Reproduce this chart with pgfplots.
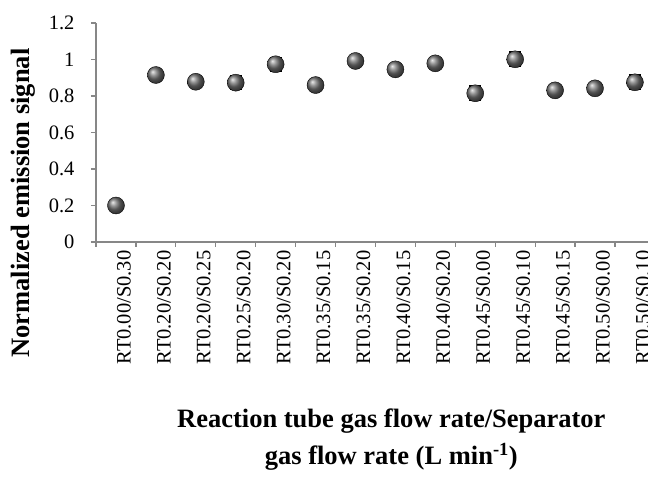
\documentclass[border=0pt]{standalone}
\usepackage{pgfplots}
\pgfplotsset{compat=1.18}
\usepackage{fontspec}
\setmainfont{Liberation Serif}
\definecolor{axgray}{HTML}{878787}
\begin{document}
\begin{tikzpicture}
\begin{axis}[
  scale only axis,
  width=552pt, height=219pt,
  xmin=-0.5, xmax=13.328,
  ymin=0, ymax=1.2,
  axis lines*=left,
  axis line style={axgray, line width=1.2pt},
  ytick={0,0.2,...,1.2},
  yticklabels={0,0.2,0.4,0.6,0.8,1,1.2},
  xtick={0,...,13},
  xticklabels={RT0.00/S0.30,RT0.20/S0.20,RT0.20/S0.25,RT0.25/S0.20,RT0.30/S0.20,RT0.35/S0.15,RT0.35/S0.20,RT0.40/S0.15,RT0.40/S0.20,RT0.45/S0.00,RT0.45/S0.10,RT0.45/S0.15,RT0.50/S0.00,RT0.50/S0.10},
  minor xtick={-0.5,0.5,...,12.5},
  major x tick style={draw=none},
  minor x tick style={axgray, line width=1.2pt},
  y tick style={axgray, line width=1.2pt},
  tick align=outside,
  major tick length=5pt, minor tick length=5pt,
  x tick label style={rotate=90, anchor=east, font=\fontsize{20.5}{22}\selectfont, yshift=-8pt},
  y tick label style={font=\fontsize{20.5}{22}\selectfont, xshift=-13pt},
  /pgf/number format/assume math mode=true,
  every axis y label/.style={at={(rel axis cs:-0.1325,0.178)}, rotate=90, anchor=center},
  ylabel={\fontsize{26.5}{30}\selectfont\bfseries Normalized emission signal},
  every axis x label/.style={at={(rel axis cs:0.535,-0.904)}, anchor=center, align=center, font=\fontsize{26.5}{37}\selectfont\bfseries},
  xlabel={Reaction tube gas flow rate/Separator\\gas flow rate (L min\textsuperscript{-1})},
  clip=false,
]
\addplot[only marks, mark=ball, mark size=8.5pt, mark options={ball color=black!55},
  error bars/.cd, y dir=both, y explicit,
  error bar style={black, line width=1pt},
  error mark options={rotate=90, mark size=6pt, black, line width=1.5pt}]
coordinates {
(0,0.200) +- (0,0.02)
(1,0.915) +- (0,0.02)
(2,0.878) +- (0,0.02)
(3,0.873) +- (0,0.037)
(4,0.974) +- (0,0.038)
(5,0.860) +- (0,0.02)
(6,0.992) +- (0,0.02)
(7,0.946) +- (0,0.02)
(8,0.979) +- (0,0.02)
(9,0.815) +- (0,0.041)
(10,1.001) +- (0,0.039)
(11,0.831) +- (0,0.02)
(12,0.842) +- (0,0.02)
(13,0.875) +- (0,0.040)
};
\end{axis}
\pgfresetboundingbox
\path[use as bounding box] (-96pt,-236pt) rectangle (552pt,242pt);
\end{tikzpicture}
\end{document}
